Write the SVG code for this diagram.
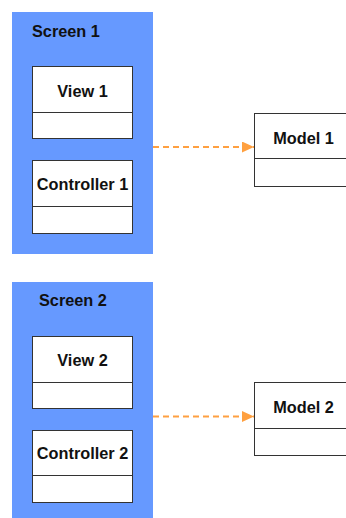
<svg xmlns="http://www.w3.org/2000/svg" width="346" height="518" viewBox="0 0 346 518">
  <style>
    .screen { fill: #6699ff; }
    .box { fill: #ffffff; stroke: #333333; stroke-width: 1; }
    .div { stroke: #333333; stroke-width: 1; }
    .label { font-family: "Liberation Sans", Arial, sans-serif; font-weight: bold; font-size: 16.3px; fill: #111111; }
    .mid { text-anchor: middle; }
    .dep { stroke: #ffa040; stroke-width: 2; stroke-dasharray: 6 4; fill: none; }
  </style>
  <defs>
    <marker id="head" markerWidth="12" markerHeight="11" refX="12" refY="5.5" orient="auto" markerUnits="userSpaceOnUse">
      <path d="M0,0 L12,5.5 L0,11 Z" fill="#ffa040"/>
    </marker>
  </defs>
  <rect width="346" height="518" fill="#ffffff"/>

  <g id="screen1">
    <rect class="screen" x="12" y="12" width="141" height="242"/>
    <text class="label" x="32" y="37">Screen 1</text>
  </g>
  <g id="view1">
    <rect class="box" x="32.5" y="66.5" width="100" height="72"/>
    <line class="div" x1="32.5" y1="112.5" x2="132.5" y2="112.5"/>
    <text class="label mid" x="82.5" y="97">View 1</text>
  </g>
  <g id="controller1">
    <rect class="box" x="32.5" y="160.5" width="100" height="73"/>
    <line class="div" x1="32.5" y1="206.5" x2="132.5" y2="206.5"/>
    <text class="label mid" x="82.5" y="190">Controller 1</text>
  </g>
  <g id="model1">
    <rect class="box" x="254.5" y="113.5" width="100" height="73"/>
    <line class="div" x1="254.5" y1="158.5" x2="354.5" y2="158.5"/>
    <text class="label mid" x="303.5" y="144">Model 1</text>
  </g>

  <g id="screen2">
    <rect class="screen" x="12" y="282" width="141" height="236"/>
    <text class="label" x="39" y="306">Screen 2</text>
  </g>
  <g id="view2">
    <rect class="box" x="32.5" y="336.5" width="100" height="72"/>
    <line class="div" x1="32.5" y1="382.5" x2="132.5" y2="382.5"/>
    <text class="label mid" x="82.5" y="366">View 2</text>
  </g>
  <g id="controller2">
    <rect class="box" x="32.5" y="430.5" width="100" height="72"/>
    <line class="div" x1="32.5" y1="475.5" x2="132.5" y2="475.5"/>
    <text class="label mid" x="82.5" y="459">Controller 2</text>
  </g>
  <g id="model2">
    <rect class="box" x="254.5" y="382.5" width="100" height="73"/>
    <line class="div" x1="254.5" y1="428.5" x2="354.5" y2="428.5"/>
    <text class="label mid" x="303.5" y="413">Model 2</text>
  </g>

  <g id="connectors">
    <line class="dep" x1="153" y1="147" x2="254" y2="147" marker-end="url(#head)"/>
    <line class="dep" x1="153" y1="416.5" x2="254" y2="416.5" marker-end="url(#head)"/>
  </g>
</svg>
